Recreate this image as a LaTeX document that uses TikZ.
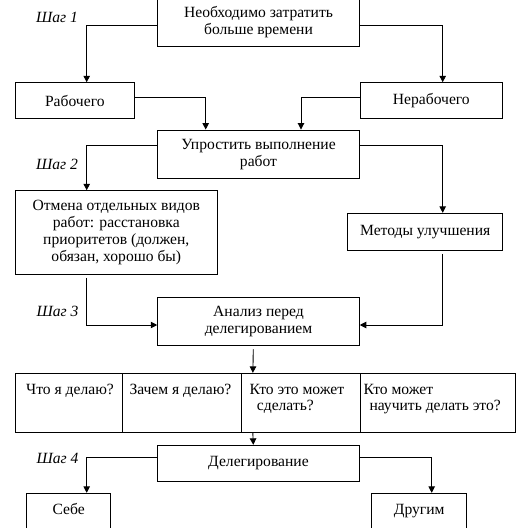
\documentclass[tikz,border=0pt]{standalone}
\usepackage{fontspec}
\setmainfont{Liberation Serif}
\usetikzlibrary{arrows.meta}
\begin{document}
\begin{tikzpicture}[x=1pt,y=-1pt,
  box/.style={draw,line width=0.9pt,rectangle,inner sep=0pt,align=center,
    font=\fontsize{15.6}{17}\selectfont},
  cell/.style={draw,line width=0.9pt,rectangle,inner sep=0pt,minimum width=#1,minimum height=59.4pt},
  txt/.style={inner sep=0pt,anchor=base west,font=\fontsize{15.6}{17}\selectfont},
  shag/.style={inner sep=0pt,font=\fontsize{15.6}{17}\selectfont\itshape},
  arr/.style={line width=0.9pt,-{Triangle[width=6.5pt,length=6.5pt]}},
  ln/.style={line width=0.9pt}]
\useasboundingbox (0,0) rectangle (528,528);
% boxes
\node[box,minimum width=201.6pt,minimum height=48pt] (top) at (258.5,22.5) {Необходимо затратить\\больше времени};
\node[box,minimum width=119pt,minimum height=35.6pt] (rab) at (74.8,100.5) {Рабочего};
\node[box,minimum width=142.7pt,minimum height=35.6pt] (nerab) at (431.35,100.5) {Нерабочего};
\node[box,minimum width=201.6pt,minimum height=48.3pt] (upr) at (258.5,154.15) {Упростить выполнение\\работ};
\node[box,minimum width=202pt,minimum height=83.6pt] (otm) at (116.3,232.5) {Отмена отдельных видов\\работ: расстановка\\приоритетов (должен,\\обязан, хорошо бы)};
\node[box,minimum width=155pt,minimum height=36.7pt] (met) at (425.2,231.65) {Методы улучшения};
\node[box,minimum width=201.6pt,minimum height=48pt] (an) at (258.5,321.7) {Анализ перед\\делегированием};
% table
\node[cell=107pt] (c1) at (68.8,403) {};
\node[cell=118.7pt] (c2) at (181.65,403) {};
\node[cell=119pt] (c3) at (300.5,403) {};
\node[cell=155.7pt] (c4) at (437.85,403) {};
\node[txt] (t1) at (26,394.5) {Что я делаю?};
\node[txt] (t2) at (129.3,394.5) {Зачем я делаю?};
\node[txt] (t3a) at (249.3,394.5) {Кто это может};
\node[txt] (t3b) at (256.7,410.5) {сделать?};
\node[txt] (t4a) at (363.3,394.5) {Кто может};
\node[txt] (t4b) at (369.3,410.5) {научить делать это?};
\node[box,minimum width=201.6pt,minimum height=35.7pt] (del) at (258.5,463.15) {Делегирование};
\node[box,minimum width=84pt,minimum height=36pt,text height=10.5pt,text depth=3.5pt] (sebe) at (68.7,511.3) {Себе};
\node[box,minimum width=95pt,minimum height=36pt,text height=10.5pt,text depth=3.5pt] (drug) at (419.2,511.3) {Другим};
% step labels
\node[shag] (s1) at (57,17) {Шаг 1};
\node[shag] (s2) at (57,164) {Шаг 2};
\node[shag] (s3) at (57.5,311.7) {Шаг 3};
\node[shag] (s4) at (57.5,458) {Шаг 4};
% connectors
\draw[arr] ([yshift=-3pt]top.west) -| ([xshift=11.9pt]rab.north);
\draw[arr] ([yshift=-3pt]top.east) -| ([xshift=11.35pt]nerab.north);
\draw[arr] ([yshift=2.8pt]rab.east) -| ([xshift=-52.8pt]upr.north);
\draw[arr] ([yshift=2.8pt]nerab.west) -| ([xshift=42.5pt]upr.north);
\draw[arr] ([yshift=8.45pt]upr.west) -| ([xshift=-29.6pt]otm.north);
\draw[arr] ([yshift=8.45pt]upr.east) -| ([xshift=17.5pt]met.north);
\draw[arr] ([xshift=-29.6pt,yshift=-3pt]otm.south) |- ([yshift=-3.3pt]an.west);
\draw[arr] ([xshift=17.5pt,yshift=-3.3pt]met.south) |- ([yshift=-3.3pt]an.east);
\draw[arr] ([xshift=-5.2pt,yshift=-3.3pt]an.south) -- ([xshift=12.3pt]c3.north west);
\draw[arr] ([xshift=12.3pt]c3.south west) -- ([xshift=-5.2pt]del.north);
\draw[arr] ([yshift=5.85pt]del.west) -| ([xshift=18pt]sebe.north);
\draw[arr] ([yshift=5.85pt]del.east) -| ([xshift=12.5pt]drug.north);
\end{tikzpicture}
\end{document}
